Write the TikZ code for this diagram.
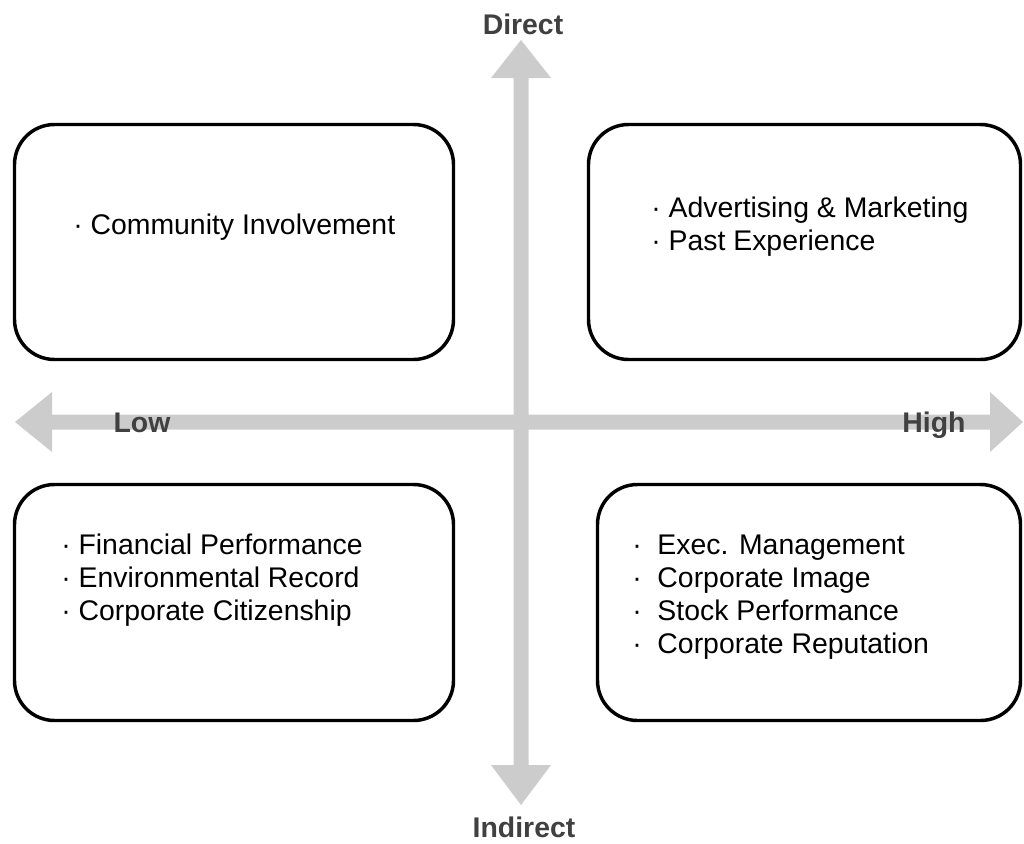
\documentclass[tikz,border=0pt]{standalone}
\usepackage{fontspec}
\setmainfont{Liberation Sans}
\definecolor{ejegris}{HTML}{CCCCCC}
\definecolor{textogris}{HTML}{404040}

\begin{document}
\begin{tikzpicture}[x=0.75pt, y=-0.75pt,
		caja/.style 2 args={draw, line width=2.6pt, rounded corners=30pt, inner sep=0pt, minimum width=#1, minimum height=#2},
		texto/.style={anchor=base west, align=left, inner sep=0pt, font=\fontsize{21.3}{24.75}\selectfont},
		etiqueta/.style={anchor=base, inner sep=0pt, text=textogris, font=\fontsize{21.3}{25}\selectfont\bfseries}]
		\useasboundingbox (0,0) rectangle (1024,843);
		
		% Ejes
		\coordinate (izq) at (15,422);
		\coordinate (der) at (1023,422);
		\coordinate (arr) at (521,40);
		\coordinate (aba) at (521,805);
		\fill[ejegris] (izq) -- (52,392) -- (52,414.5) -- (990,414.5) -- (990,392) -- (der)
			-- (990,452) -- (990,429.5) -- (52,429.5) -- (52,452) -- cycle;
		\fill[ejegris] (arr) -- (551,78) -- (528.5,78) -- (528.5,765) -- (551,765) -- (aba)
			-- (491,765) -- (513.5,765) -- (513.5,78) -- (491,78) -- cycle;
		\node[etiqueta] (direct) at (523,34) {Direct};
		\node[etiqueta] (indirect) at (524,837) {Indirect};
		\node[etiqueta] (low) at (142,432) {Low};
		\node[etiqueta] (high) at (934,432) {High};
		
		% Cuadrantes
		\node[caja={329.25pt}{176.25pt}] (cajaA) at (234,242) {};
		\node[caja={324pt}{176.25pt}] (cajaB) at (804.5,242) {};
		\node[caja={329.25pt}{177pt}] (cajaC) at (234,602.5) {};
		\node[caja={317.25pt}{177pt}] (cajaD) at (809,602.5) {};
		
		% Textos (base = ultima linea)
		\node[texto] (txtA) at (73,234) {· Community Involvement};
		\node[texto] (txtB) at (651,250) {· Advertising \& Marketing\\· Past Experience};
		\node[texto] (txtC) at (61,620) {· Financial Performance\\· Environmental Record\\· Corporate Citizenship};
		\node[texto] (txtD) at (632,653) {·~ Exec. Management\\·~ Corporate Image\\·~ Stock Performance\\·~ Corporate Reputation};
	\end{tikzpicture}
\end{document}
